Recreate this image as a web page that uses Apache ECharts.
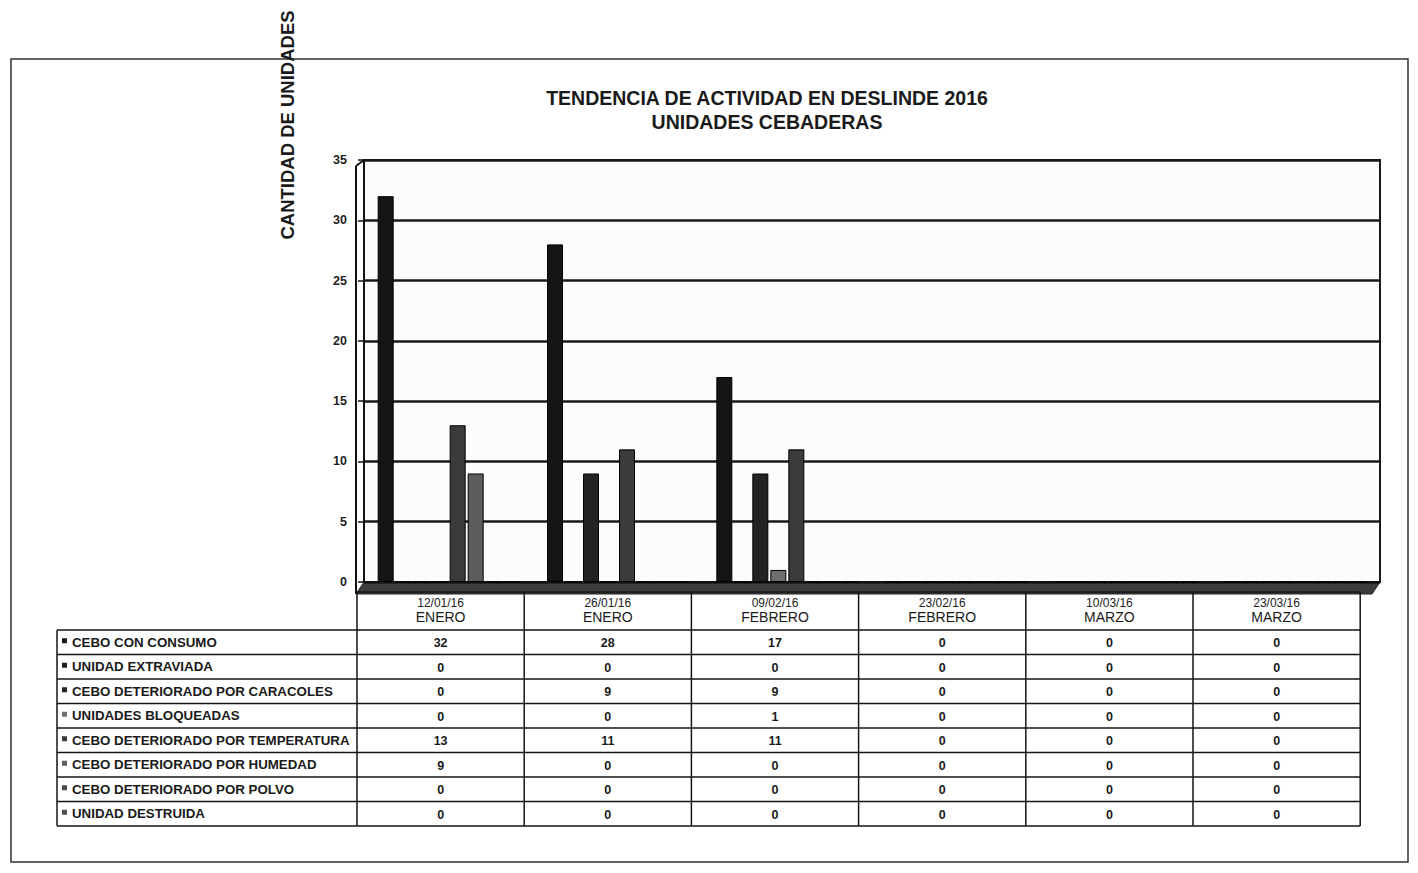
<!DOCTYPE html>
<html>
<head>
<meta charset="utf-8">
<script src="https://cdn.jsdelivr.net/npm/echarts@6/dist/echarts.min.js"></script>
<style>
  html, body { margin:0; padding:0; background:#fff; }
  #chart { width:1418px; height:873px; }
</style>
</head>
<body>
<div id="chart"></div>
<script>
// datos de la tabla / grafico
var fechas = ['12/01/16', '26/01/16', '09/02/16', '23/02/16', '10/03/16', '23/03/16'];
var meses = ['ENERO', 'ENERO', 'FEBRERO', 'FEBRERO', 'MARZO', 'MARZO'];
var nombres = [
  'CEBO CON CONSUMO',
  'UNIDAD EXTRAVIADA',
  'CEBO DETERIORADO POR CARACOLES',
  'UNIDADES BLOQUEADAS',
  'CEBO DETERIORADO POR TEMPERATURA',
  'CEBO DETERIORADO POR HUMEDAD',
  'CEBO DETERIORADO POR POLVO',
  'UNIDAD DESTRUIDA'
];
var ceboConConsumo = [32, 28, 17, 0, 0, 0];
var unidadExtraviada = [0, 0, 0, 0, 0, 0];
var porCaracoles = [0, 9, 9, 0, 0, 0];
var bloqueadas = [0, 0, 1, 0, 0, 0];
var porTemperatura = [13, 11, 11, 0, 0, 0];
var porHumedad = [9, 0, 0, 0, 0, 0];
var porPolvo = [0, 0, 0, 0, 0, 0];
var destruida = [0, 0, 0, 0, 0, 0];
var valores = [ceboConConsumo, unidadExtraviada, porCaracoles, bloqueadas,
               porTemperatura, porHumedad, porPolvo, destruida];

var colores = ['#151515', '#1c1c1c', '#232323', '#6e6e6e', '#3b3b3b', '#5d5d5d', '#4a4a4a', '#525252'];
var FONT = "'Liberation Sans', Arial, sans-serif";

var myChart = echarts.init(document.getElementById('chart'), null, { renderer: 'svg' });

var categorias = fechas.map(function (f, i) { return f + '\n' + meses[i]; });

var series = nombres.map(function (n, i) {
  return {
    name: n,
    type: 'bar',
    data: valores[i],
    barWidth: 16,
    barGap: '12.5%',
    itemStyle: { color: colores[i], borderColor: '#000', borderWidth: 1 }
  };
});

// tabla de datos (debajo del grafico)
function tabla() {
  var g = [];
  var tLeft = 357, colW = 167.2, lLeft = 57;
  var hTop = 592, hH = 38, rowH = 24.5;
  var rTop = hTop + hH;
  var tRight = tLeft + colW * fechas.length;
  var tBottom = rTop + rowH * nombres.length;
  var line = function (x1, y1, x2, y2, w) {
    g.push({ type: 'line', shape: { x1: x1, y1: y1, x2: x2, y2: y2 },
             style: { stroke: '#151515', lineWidth: w || 1.5 } });
  };
  // encabezado
  line(tLeft, hTop, tRight, hTop);
  for (var c = 0; c <= fechas.length; c++) {
    line(tLeft + colW * c, hTop, tLeft + colW * c, tBottom);
  }
  fechas.forEach(function (f, c) {
    var cx = tLeft + colW * (c + 0.5);
    g.push({ type: 'text', x: cx, y: hTop + 11,
             style: { text: f, font: '12px ' + FONT, fill: '#222', align: 'center', verticalAlign: 'middle' } });
    g.push({ type: 'text', x: cx, y: hTop + 25,
             style: { text: meses[c], font: '14px ' + FONT, fill: '#1a1a1a', align: 'center', verticalAlign: 'middle' } });
  });
  // filas
  line(lLeft, rTop, tRight, rTop);
  line(lLeft, rTop, lLeft, tBottom);
  nombres.forEach(function (n, r) {
    var y0 = rTop + rowH * r;
    line(lLeft, y0 + rowH, tRight, y0 + rowH);
    g.push({ type: 'rect', shape: { x: lLeft + 5, y: y0 + rowH / 2 - 4, width: 5, height: 5 },
             style: { fill: colores[r] } });
    g.push({ type: 'text', x: lLeft + 15, y: y0 + rowH / 2,
             style: { text: n, font: 'bold 13.3px ' + FONT, fill: '#1a1a1a', align: 'left', verticalAlign: 'middle' } });
    valores[r].forEach(function (v, c) {
      g.push({ type: 'text', x: tLeft + colW * (c + 0.5), y: y0 + rowH / 2 + 1,
               style: { text: String(v), font: 'bold 12.5px ' + FONT, fill: '#1a1a1a', align: 'center', verticalAlign: 'middle' } });
    });
  });
  return g;
}

var graficos = [
  // marco exterior
  { type: 'rect', shape: { x: 11, y: 59, width: 1397, height: 803 },
    style: { fill: 'none', stroke: '#333', lineWidth: 1.5 } },
  // piso 3D
  { type: 'polygon', shape: { points: [[364, 582], [1380, 582], [1372, 594], [356, 594]] },
    style: { fill: '#3c3c3c', stroke: '#222', lineWidth: 1 } },
  // pared lateral
  { type: 'line', shape: { x1: 356, y1: 166, x2: 356, y2: 594 }, style: { stroke: '#111', lineWidth: 2 } },
  { type: 'line', shape: { x1: 356, y1: 166, x2: 364, y2: 160 }, style: { stroke: '#111', lineWidth: 2 } },
  { type: 'text', x: 287, y: 125, rotation: Math.PI / 2,
    style: { text: 'CANTIDAD DE UNIDADES', font: 'bold 18.5px ' + FONT, fill: '#1a1a1a', align: 'center', verticalAlign: 'middle' } }
].concat(tabla());

myChart.setOption({
  animation: false,
  backgroundColor: '#fff',
  title: {
    text: 'TENDENCIA DE ACTIVIDAD EN DESLINDE 2016\nUNIDADES CEBADERAS',
    left: 762,
    top: 81,
    textAlign: 'center',
    textStyle: { fontFamily: FONT, fontSize: 19.5, fontWeight: 'bold', color: '#1a1a1a', lineHeight: 24 }
  },
  legend: { show: false },
  grid: {
    left: 364, right: 38, top: 160, bottom: 291,
    show: true, backgroundColor: '#fcfcfc', borderColor: '#1a1a1a', borderWidth: 2
  },
  xAxis: {
    type: 'category',
    data: categorias,
    axisLabel: { show: false },
    axisTick: { show: false },
    axisLine: { show: true, lineStyle: { color: '#111', width: 2 } }
  },
  yAxis: {
    type: 'value',
    min: 0, max: 35, interval: 5,
    axisLine: { show: true, lineStyle: { color: '#111', width: 2 } },
    axisTick: { show: true, length: 6, lineStyle: { color: '#111', width: 1.5 } },
    axisLabel: { margin: 17, fontFamily: FONT, fontSize: 12.5, fontWeight: 'bold', color: '#222' },
    splitLine: { show: true, lineStyle: { color: '#1a1a1a', width: 2.5 } }
  },
  graphic: graficos,
  series: series
});
</script>
</body>
</html>
